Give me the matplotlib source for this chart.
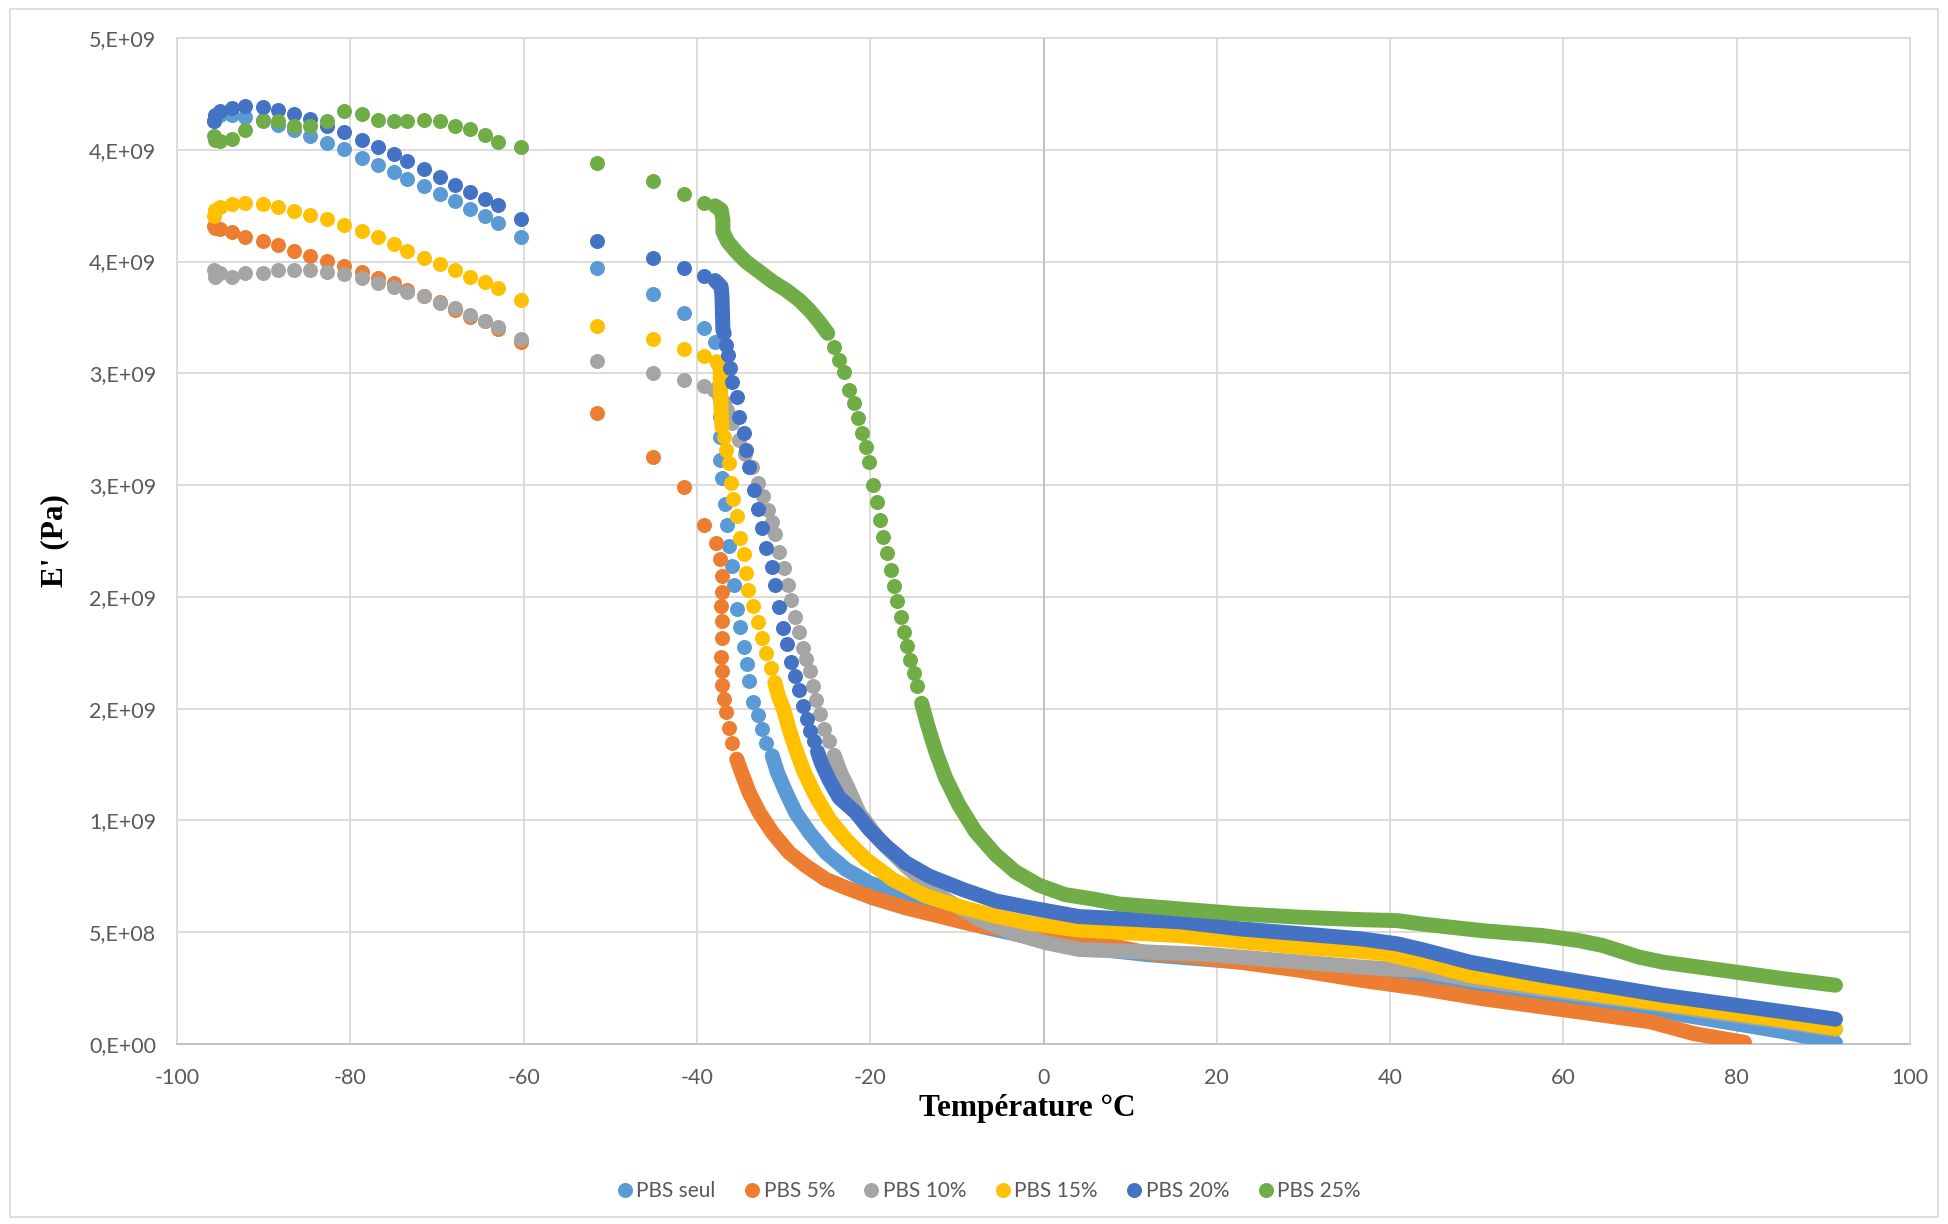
import numpy as np
import matplotlib
matplotlib.use("Agg")
import matplotlib.pyplot as plt
from matplotlib.ticker import MultipleLocator, FuncFormatter
from matplotlib.patches import Rectangle

plt.rcParams['axes.unicode_minus'] = False

# E' in 1e9 Pa, temperature in degC
# first (sparse) measurements, shared temperatures
T_LOW = [-95.7, -95.6, -95.0, -93.7, -92.1, -90.1, -88.3, -86.5, -84.6, -82.7,
         -80.7, -78.6, -76.8, -75.0, -73.4, -71.5, -69.7, -67.9, -66.2, -64.5,
         -63.0, -60.3, -51.5, -45.1, -41.5, -39.2]

# PBS seul
pbs0_low = [4.13, 4.15, 4.157, 4.157, 4.146, 4.134, 4.109, 4.087, 4.060, 4.030,
            4.003, 3.964, 3.934, 3.900, 3.869, 3.836, 3.802, 3.769, 3.735, 3.705,
            3.673, 3.612, 3.470, 3.356, 3.270, 3.205]
pbs0_drop_t = [-37.9, -37.6, -37.45, -37.35, -37.3, -37.35, -37.3, -37.1, -36.8, -36.5,
               -36.3, -36.0, -35.7, -35.4, -35.0, -34.6, -34.2, -34.0, -33.5, -33.0,
               -32.5, -32.0]
pbs0_drop_e = [3.142, 3.05, 2.95, 2.88, 2.806, 2.716, 2.612, 2.530, 2.415, 2.321,
               2.229, 2.139, 2.053, 1.948, 1.866, 1.774, 1.699, 1.624, 1.530, 1.471,
               1.411, 1.348]
pbs0_band_t = [-31.3, -30.7, -29.7, -28.6, -27.0, -25.1, -22.8, -20.1, -17.0, -13.2,
               -10.9, -7.1, -3.0, 0.0, 5.0, 12.0, 20.0, 30.0, 36.7, 40.1,
               43.6, 49.2, 57.6, 64.5, 71.5, 78.5, 85.4, 91.4]
pbs0_band_e = [1.289, 1.214, 1.124, 1.035, 0.945, 0.856, 0.781, 0.721, 0.677, 0.632,
               0.59, 0.525, 0.49, 0.465, 0.43, 0.40, 0.375, 0.345, 0.32, 0.31,
               0.29, 0.255, 0.215, 0.18, 0.145, 0.10, 0.055, 0.005]

# PBS 5%
pbs5_low = [3.66, 3.648, 3.645, 3.632, 3.612, 3.594, 3.573, 3.549, 3.524, 3.503,
            3.478, 3.454, 3.426, 3.403, 3.373, 3.348, 3.321, 3.284, 3.254, 3.232,
            3.197, 3.142, 2.824, 2.627, 2.490, 2.321]
pbs5_drop_t = [-37.8, -37.3, -37.1, -37.1, -37.2, -37.15, -37.15, -37.2, -37.15, -37.1,
               -36.9, -36.65, -36.35, -35.96]
pbs5_drop_e = [2.242, 2.168, 2.093, 2.023, 1.96, 1.893, 1.818, 1.729, 1.669, 1.605,
               1.545, 1.483, 1.415, 1.348]
pbs5_band_t = [-35.4, -34.7, -33.96, -32.8, -31.27, -29.35, -27.4, -25.1, -22.8, -19.7,
               -15.9, -12.0, -8.2, -3.6, 4.1, 12.3, 15.7, 22.7, 29.7, 36.7,
               43.6, 50.6, 57.6, 64.5, 70.1, 75.0, 80.9]
pbs5_band_e = [1.274, 1.199, 1.124, 1.035, 0.945, 0.856, 0.796, 0.736, 0.699, 0.654,
               0.609, 0.572, 0.535, 0.505, 0.47, 0.405, 0.396, 0.366, 0.329, 0.285,
               0.248, 0.203, 0.166, 0.129, 0.099, 0.047, 0.007]

# PBS 10%
pbs10_low = [3.460, 3.433, 3.448, 3.433, 3.448, 3.451, 3.463, 3.463, 3.463, 3.455,
             3.443, 3.428, 3.406, 3.388, 3.366, 3.344, 3.314, 3.291, 3.262, 3.235,
             3.209, 3.153, 3.056, 3.003, 2.970, 2.944]
pbs10_drop_t = [-38.0, -37.4, -36.9, -36.5, -35.9, -35.1, -34.4, -33.6, -33.0, -32.4,
                -31.8, -31.3, -31.0, -30.5, -29.9, -29.5, -29.1, -28.65, -28.2, -27.7,
                -27.4, -27.0, -26.6, -26.2, -25.8, -25.3, -24.7]
pbs10_drop_e = [2.926, 2.90, 2.87, 2.836, 2.78, 2.70, 2.64, 2.58, 2.51, 2.45,
                2.39, 2.336, 2.281, 2.20, 2.13, 2.055, 1.985, 1.912, 1.841, 1.77,
                1.72, 1.668, 1.60, 1.538, 1.475, 1.409, 1.354]
pbs10_band_t = [-24.15, -23.4, -22.6, -21.3, -19.0, -15.9, -13.2, -11.3, -7.4, -3.6,
                0.3, 4.1, 12.3, 19.2, 29.7, 36.7, 40.1, 43.6, 49.2, 57.6,
                64.5, 71.5, 78.5, 85.4, 91.4]
pbs10_band_e = [1.291, 1.212, 1.149, 1.035, 0.915, 0.796, 0.706, 0.647, 0.557, 0.497,
                0.453, 0.423, 0.411, 0.40, 0.366, 0.344, 0.335, 0.33, 0.29, 0.245,
                0.21, 0.175, 0.135, 0.10, 0.065]

# PBS 15%
pbs15_low = [3.702, 3.732, 3.746, 3.758, 3.761, 3.757, 3.742, 3.727, 3.709, 3.690,
             3.663, 3.635, 3.608, 3.578, 3.548, 3.518, 3.490, 3.463, 3.433, 3.408,
             3.382, 3.329, 3.213, 3.153, 3.109, 3.079]
pbs15_knee_t = [-37.7, -37.3, -37.3, -37.25, -37.2, -37.1]
pbs15_knee_e = [3.052, 3.025, 2.96, 2.89, 2.82, 2.76]
pbs15_drop_t = [-36.85, -36.6, -36.35, -36.1, -35.8, -35.4, -35.0, -34.6, -34.3, -34.05,
                -33.5, -33.0, -32.5, -32.0, -31.4]
pbs15_drop_e = [2.717, 2.657, 2.598, 2.511, 2.438, 2.362, 2.265, 2.19, 2.108, 2.03,
                1.96, 1.886, 1.814, 1.747, 1.681]
pbs15_band_t = [-31.0, -30.6, -30.0, -29.35, -28.6, -27.6, -26.3, -24.7, -22.8, -20.5,
                -17.4, -13.6, -9.3, -5.5, -1.65, 4.1, 15.7, 22.7, 29.7, 36.7,
                39.4, 43.6, 49.2, 57.6, 64.5, 71.5, 78.5, 85.4, 91.4]
pbs15_band_e = [1.617, 1.557, 1.497, 1.408, 1.318, 1.214, 1.109, 1.005, 0.915, 0.826,
                0.736, 0.662, 0.61, 0.572, 0.54, 0.51, 0.485, 0.458, 0.433, 0.414,
                0.404, 0.366, 0.307, 0.255, 0.218, 0.181, 0.144, 0.107, 0.07]

# PBS 20%
pbs20_low = [4.127, 4.157, 4.172, 4.187, 4.194, 4.190, 4.179, 4.160, 4.137, 4.108,
             4.078, 4.045, 4.012, 3.979, 3.948, 3.915, 3.878, 3.843, 3.811, 3.779,
             3.751, 3.690, 3.590, 3.516, 3.470, 3.436]
pbs20_knee_t = [-37.9, -37.2, -37.1, -37.05, -37.0, -36.85]
pbs20_knee_e = [3.415, 3.388, 3.343, 3.27, 3.194, 3.179]
pbs20_drop_t = [-36.65, -36.4, -36.15, -35.9, -35.4, -35.1, -34.6, -34.3, -34.0, -33.46,
                -33.0, -32.5, -32.04, -31.38, -30.96, -30.58, -30.08, -29.58, -29.15, -28.65,
                -28.19, -27.73, -27.35, -26.92, -26.46]
pbs20_drop_e = [3.127, 3.082, 3.022, 2.963, 2.896, 2.806, 2.731, 2.657, 2.582, 2.480,
                2.395, 2.308, 2.219, 2.132, 2.053, 1.954, 1.862, 1.789, 1.708, 1.645,
                1.582, 1.511, 1.456, 1.401, 1.354]
pbs20_band_t = [-26.08, -25.58, -24.73, -23.58, -21.65, -20.1, -18.2, -15.9, -13.2, -9.3,
                -5.5, -1.65, 4.1, 15.7, 22.7, 29.7, 36.7, 40.8, 43.6, 49.2,
                57.6, 64.5, 71.5, 78.5, 85.4, 91.4]
pbs20_band_e = [1.307, 1.252, 1.181, 1.102, 1.035, 0.96, 0.886, 0.811, 0.751, 0.691,
                0.64, 0.61, 0.57, 0.547, 0.515, 0.493, 0.470, 0.448, 0.423, 0.366,
                0.307, 0.263, 0.218, 0.181, 0.144, 0.111]

# PBS 25%
pbs25_low = [4.06, 4.045, 4.040, 4.049, 4.087, 4.130, 4.130, 4.105, 4.108, 4.130,
             4.175, 4.161, 4.134, 4.130, 4.130, 4.131, 4.127, 4.108, 4.093, 4.066,
             4.037, 4.011, 3.940, 3.861, 3.801, 3.764]
pbs25_knee_t = [-37.9, -37.2, -37.0, -37.0, -36.46, -35.5, -34.35, -32.8, -31.27, -29.73,
                -28.2, -27.04, -25.9, -24.9]
pbs25_knee_e = [3.749, 3.731, 3.687, 3.634, 3.59, 3.545, 3.5, 3.455, 3.41, 3.373,
                3.328, 3.284, 3.231, 3.179]
pbs25_drop_t = [-24.15, -23.6, -23.0, -22.5, -21.9, -21.46, -21.0, -20.5, -20.1, -19.66,
                -19.2, -18.85, -18.47, -18.1, -17.6, -17.24, -16.86, -16.5, -16.1, -15.8,
                -15.4, -15.0, -14.56]
pbs25_drop_e = [3.119, 3.06, 3.007, 2.925, 2.866, 2.80, 2.731, 2.672, 2.603, 2.5,
                2.423, 2.344, 2.269, 2.195, 2.122, 2.05, 1.981, 1.91, 1.844, 1.781,
                1.716, 1.661, 1.601]
pbs25_band_t = [-14.06, -13.4, -12.45, -11.3, -9.77, -7.85, -5.55, -3.26, -0.57, 2.5,
                5.5, 8.8, 15.7, 22.7, 29.7, 36.7, 40.8, 43.6, 50.6, 57.6,
                61.7, 64.5, 68.7, 71.5, 78.5, 85.4, 91.4]
pbs25_band_e = [1.524, 1.43, 1.31, 1.19, 1.07, 0.95, 0.848, 0.771, 0.711, 0.668,
                0.65, 0.626, 0.604, 0.582, 0.567, 0.556, 0.552, 0.537, 0.507, 0.485,
                0.463, 0.441, 0.389, 0.366, 0.329, 0.292, 0.263]

labels = ['PBS seul', 'PBS 5%', 'PBS 10%', 'PBS 15%', 'PBS 20%', 'PBS 25%']
colors = ['#5B9BD5', '#ED7D31', '#A5A5A5', '#FFC000', '#4472C4', '#70AD47']

series = [
    (pbs0_low, [(pbs0_drop_t, pbs0_drop_e)], [(pbs0_band_t, pbs0_band_e)]),
    (pbs5_low, [(pbs5_drop_t, pbs5_drop_e)], [(pbs5_band_t, pbs5_band_e)]),
    (pbs10_low, [(pbs10_drop_t, pbs10_drop_e)], [(pbs10_band_t, pbs10_band_e)]),
    (pbs15_low, [(pbs15_drop_t, pbs15_drop_e)],
     [(pbs15_knee_t, pbs15_knee_e), (pbs15_band_t, pbs15_band_e)]),
    (pbs20_low, [(pbs20_drop_t, pbs20_drop_e)],
     [(pbs20_knee_t, pbs20_knee_e), (pbs20_band_t, pbs20_band_e)]),
    (pbs25_low, [(pbs25_drop_t, pbs25_drop_e)],
     [(pbs25_knee_t, pbs25_knee_e), (pbs25_band_t, pbs25_band_e)]),
]

MS = 10.8
GPA = 1e9


def excel_sci(v, pos):
    # mimic Excel "0,E+00" number format (mantissa rounded half up)
    if abs(v) < 1:
        return '0,E+00'
    exp = int(np.floor(np.log10(abs(v)) + 1e-9))
    m = int(np.floor(v / 10**exp + 0.5 + 1e-9))
    if m == 10:
        m, exp = 1, exp + 1
    return f'{m},E{exp:+03d}'


fig = plt.figure(figsize=(19.48, 12.24), dpi=100)
fig.patches.append(Rectangle((10 / 1948, 1 - 1217 / 1224), 1928 / 1948, 1208 / 1224,
                             transform=fig.transFigure, fill=False,
                             edgecolor='#D9D9D9', lw=1.2))
ax = fig.add_axes([177 / 1948, 1 - 1044 / 1224, 1733 / 1948, 1006 / 1224])

for i, (low, drops, bands) in enumerate(series):
    c = colors[i]
    z = 3 + i
    ax.plot(T_LOW, np.array(low) * GPA, 'o', ms=MS, mew=0, color=c, zorder=z,
            label=labels[i])
    for t, e in drops:
        ax.plot(t, np.array(e) * GPA, 'o', ms=MS, mew=0, color=c, zorder=z)
    for t, e in bands:
        ax.plot(t, np.array(e) * GPA, '-', lw=MS, color=c, zorder=z,
                solid_capstyle='round', solid_joinstyle='round')

ax.set_xlim(-100, 100)
ax.set_ylim(0, 4.5e9)
ax.xaxis.set_major_locator(MultipleLocator(20))
ax.yaxis.set_major_locator(MultipleLocator(0.5e9))
ax.yaxis.set_major_formatter(FuncFormatter(excel_sci))

ax.set_axisbelow(True)
ax.grid(True, color='#D9D9D9', lw=1.3)
ax.axvline(0, color='#BFBFBF', lw=1.3, zorder=1)
for side in ['left', 'right', 'top']:
    ax.spines[side].set_color('#D9D9D9')
    ax.spines[side].set_linewidth(1.3)
ax.spines['bottom'].set_color('#BFBFBF')
ax.spines['bottom'].set_linewidth(1.3)

ax.tick_params(axis='both', length=0, labelsize=15.5, labelcolor='#595959')
ax.tick_params(axis='x', pad=17)
ax.tick_params(axis='y', pad=15)
for lab in ax.get_xticklabels() + ax.get_yticklabels():
    lab.set_family('Lato')

ax.set_xlabel('Température °C', family='Liberation Serif', weight='bold',
              fontsize=22.5)
ax.xaxis.set_label_coords(0.4905, -0.05)
ax.set_ylabel("E' (Pa)", family='Liberation Serif', weight='bold',
              fontsize=22.5, labelpad=14)

handles, labs = ax.get_legend_handles_labels()
fig.legend(handles, labs, loc='center', bbox_to_anchor=(0.508, 0.027), ncol=6,
           frameon=False, handlelength=0.6, handletextpad=0.25, columnspacing=1.45,
           prop={'family': 'Lato', 'size': 15}, labelcolor='#595959')

fig.savefig('out.png', dpi=100)
